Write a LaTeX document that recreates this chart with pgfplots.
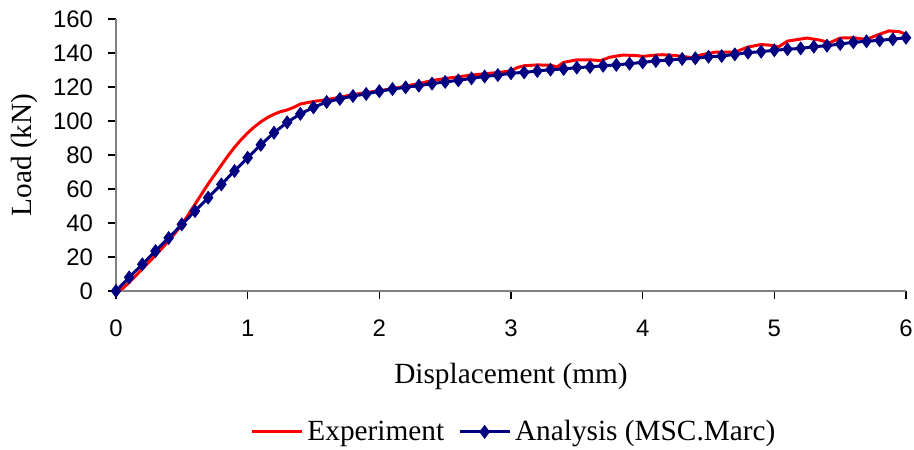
\documentclass[border=0pt]{standalone}
\usepackage{pgfplots}
\pgfplotsset{compat=1.18}
\usepackage{fontspec}
\setmainfont{Liberation Serif}
\newfontfamily\arial{Liberation Sans}
\definecolor{navy}{RGB}{0,0,128}
\begin{document}
\begin{tikzpicture}
\begin{axis}[
  name=ax,
  scale only axis,
  width=395bp, height=136bp,
  xmin=0, xmax=6, ymin=0, ymax=160,
  xtick={0,1,2,3,4,5,6},
  ytick={0,20,40,60,80,100,120,140,160},
  axis x line=bottom, axis y line=left,
  axis line style={-, draw=gray, line width=0.8pt},
  tick style={black, line width=0.6pt},
  tick align=outside,
  major tick length=4bp,
  /pgf/number format/assume math mode=true,
  tick label style={font=\arial\fontsize{12}{12}\selectfont},
  xticklabel style={yshift=-7bp},
  yticklabel style={xshift=-4bp},
  xlabel={Displacement (mm)},
  ylabel={Load (kN)},
  every axis x label/.style={at={(axis description cs:0.5,-0.316)}, anchor=center, font=\fontsize{14.7}{14.7}\selectfont},
  every axis y label/.style={at={(axis description cs:-0.116,0.5)}, rotate=90, anchor=center, font=\fontsize{14.7}{14.7}\selectfont},
  legend style={at={(axis description cs:0.505,-0.518)}, anchor=center, draw=none,
    font=\fontsize{14.7}{14.7}\selectfont, legend columns=2,
    /tikz/every even column/.append style={column sep=5bp}},
  legend image code/.code={
    \draw[#1] (0bp,0bp) -- (25bp,0bp);
    \draw[#1, only marks] plot coordinates {(12.5bp,0bp)};
  },
]
\addplot[color=red, line width=1.5pt, mark=none] coordinates {
(0,0) (0.05,1.5) (0.1,5) (0.2,13) (0.3,21) (0.4,29.5) (0.5,39) (0.55,45)
(0.6,51) (0.65,57) (0.7,63) (0.75,68.5) (0.8,74) (0.85,79.5) (0.9,84.5)
(0.95,89) (1.0,93) (1.05,96.5) (1.1,99.5) (1.15,102) (1.2,104)
(1.25,105.5) (1.3,106.5) (1.35,108) (1.4,110) (1.5,111.5) (1.6,112.5)
(1.7,114) (1.8,115.5) (1.9,116.7) (2.0,117.8) (2.1,119) (2.2,120.5)
(2.3,122) (2.4,123.8) (2.5,125) (2.6,126) (2.7,127) (2.8,127.8)
(2.9,128.5) (3.0,129.5) (3.05,131.5) (3.1,132.5) (3.2,133) (3.3,132.8)
(3.35,131.8) (3.4,134.5) (3.5,136) (3.6,136) (3.68,135.5) (3.75,137.5)
(3.85,138.8) (3.95,138.5) (4.0,138) (4.1,138.8) (4.15,139) (4.25,138.5)
(4.37,137.3) (4.45,139) (4.55,140.5) (4.7,140.5) (4.8,143.5) (4.9,145)
(4.98,144.5) (5.03,143.5) (5.1,147) (5.25,148.8) (5.35,147.5) (5.42,146)
(5.5,148.8) (5.6,149) (5.7,148) (5.78,150.5) (5.87,153) (5.95,152.5) (6.0,151)
};
\addlegendentry{Experiment}
\addplot[color=navy, line width=1.5pt, mark=diamond*, mark size=3.2bp,
  mark options={fill=navy, draw=navy, line width=0.4pt}] coordinates {
(0,0) (0.1,8) (0.2,15.7) (0.3,23.5) (0.4,31.2) (0.5,39.2) (0.6,47)
(0.7,54.9) (0.8,62.7) (0.9,70.6) (1.0,78.4) (1.1,86) (1.2,93.1)
(1.3,99.2) (1.4,104.2) (1.5,108) (1.6,111.2) (1.7,113) (1.8,114.7)
(1.9,115.9) (2.0,117.5) (2.1,118.8) (2.2,119.8) (2.3,120.8) (2.4,122)
(2.5,123) (2.6,123.9) (2.7,125.1) (2.8,126.2) (2.9,127) (3.0,128.1)
(3.1,128.6) (3.2,129.4) (3.3,130.2) (3.4,130.6) (3.5,131.4) (3.6,131.8)
(3.7,132.5) (3.8,133) (3.9,133.7) (4.0,134.5) (4.1,135.3) (4.2,135.9)
(4.3,136.5) (4.4,136.9) (4.5,137.8) (4.6,138.2) (4.7,139.2) (4.8,140.2)
(4.9,140.8) (5.0,141.6) (5.1,142.2) (5.2,142.7) (5.3,143.7) (5.4,144.3)
(5.5,145.3) (5.6,146.3) (5.7,146.9) (5.8,147.5) (5.9,148.1) (6.0,149)
};
\addlegendentry{Analysis (MSC.Marc)}
\end{axis}
\pgfresetboundingbox
\path[use as bounding box] ([xshift=-58bp, yshift=-79.5bp]ax.south west) rectangle ([xshift=4bp, yshift=9.5bp]ax.north east);
\end{tikzpicture}
\end{document}
